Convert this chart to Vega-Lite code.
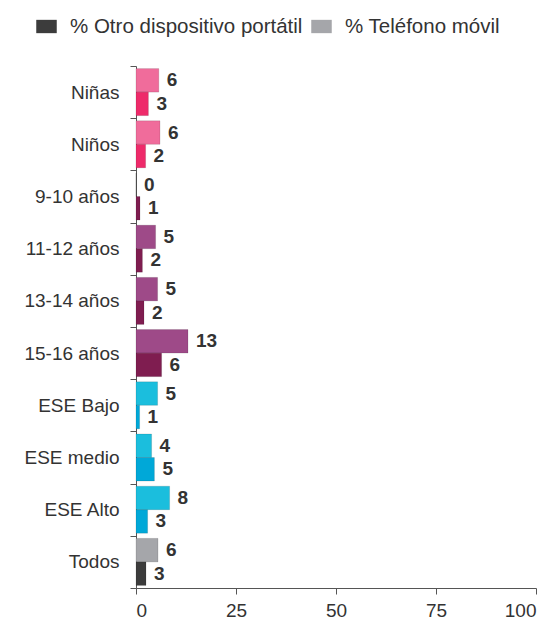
{
  "$schema": "https://vega.github.io/schema/vega-lite/v6.json",
  "width": 400,
  "height": 522,
  "autosize": {"type": "none"},
  "padding": {"left": 136, "top": 66, "right": 18, "bottom": 39},
  "background": "white",
  "config": {
    "font": "Liberation Sans",
    "view": {"stroke": null}
  },
  "data": {
    "values": [
      {"categoria": "Niñas", "grupo": "Género", "serie": "% Teléfono móvil", "valor": 5.7, "etiqueta": "6"},
      {"categoria": "Niñas", "grupo": "Género", "serie": "% Otro dispositivo portátil", "valor": 3.1, "etiqueta": "3"},
      {"categoria": "Niños", "grupo": "Género", "serie": "% Teléfono móvil", "valor": 6.0, "etiqueta": "6"},
      {"categoria": "Niños", "grupo": "Género", "serie": "% Otro dispositivo portátil", "valor": 2.4, "etiqueta": "2"},
      {"categoria": "9-10 años", "grupo": "Edad", "serie": "% Teléfono móvil", "valor": 0, "etiqueta": "0"},
      {"categoria": "9-10 años", "grupo": "Edad", "serie": "% Otro dispositivo portátil", "valor": 1.0, "etiqueta": "1"},
      {"categoria": "11-12 años", "grupo": "Edad", "serie": "% Teléfono móvil", "valor": 4.9, "etiqueta": "5"},
      {"categoria": "11-12 años", "grupo": "Edad", "serie": "% Otro dispositivo portátil", "valor": 1.6, "etiqueta": "2"},
      {"categoria": "13-14 años", "grupo": "Edad", "serie": "% Teléfono móvil", "valor": 5.4, "etiqueta": "5"},
      {"categoria": "13-14 años", "grupo": "Edad", "serie": "% Otro dispositivo portátil", "valor": 2.0, "etiqueta": "2"},
      {"categoria": "15-16 años", "grupo": "Edad", "serie": "% Teléfono móvil", "valor": 13.0, "etiqueta": "13"},
      {"categoria": "15-16 años", "grupo": "Edad", "serie": "% Otro dispositivo portátil", "valor": 6.4, "etiqueta": "6"},
      {"categoria": "ESE Bajo", "grupo": "ESE", "serie": "% Teléfono móvil", "valor": 5.4, "etiqueta": "5"},
      {"categoria": "ESE Bajo", "grupo": "ESE", "serie": "% Otro dispositivo portátil", "valor": 0.9, "etiqueta": "1"},
      {"categoria": "ESE medio", "grupo": "ESE", "serie": "% Teléfono móvil", "valor": 3.9, "etiqueta": "4"},
      {"categoria": "ESE medio", "grupo": "ESE", "serie": "% Otro dispositivo portátil", "valor": 4.6, "etiqueta": "5"},
      {"categoria": "ESE Alto", "grupo": "ESE", "serie": "% Teléfono móvil", "valor": 8.4, "etiqueta": "8"},
      {"categoria": "ESE Alto", "grupo": "ESE", "serie": "% Otro dispositivo portátil", "valor": 2.9, "etiqueta": "3"},
      {"categoria": "Todos", "grupo": "Todos", "serie": "% Teléfono móvil", "valor": 5.5, "etiqueta": "6"},
      {"categoria": "Todos", "grupo": "Todos", "serie": "% Otro dispositivo portátil", "valor": 2.5, "etiqueta": "3"}
    ]
  },
  "transform": [
    {"calculate": "datum.grupo + '|' + datum.serie", "as": "clave"}
  ],
  "encoding": {
    "y": {
      "field": "categoria",
      "type": "nominal",
      "sort": ["Niñas", "Niños", "9-10 años", "11-12 años", "13-14 años", "15-16 años", "ESE Bajo", "ESE medio", "ESE Alto", "Todos"],
      "scale": {"paddingInner": 0, "paddingOuter": 0},
      "axis": {
        "title": null,
        "tickBand": "extent",
        "domainColor": "#555555",
        "tickColor": "#555555",
        "tickSize": 6,
        "labelFontSize": 19,
        "labelColor": "#333333",
        "labelPadding": 11
      }
    },
    "yOffset": {
      "field": "serie",
      "type": "nominal",
      "sort": ["% Teléfono móvil", "% Otro dispositivo portátil"],
      "scale": {"paddingInner": 0, "paddingOuter": 0.11}
    }
  },
  "layer": [
    {
      "mark": {"type": "bar", "stroke": "black", "strokeOpacity": 0.12, "strokeWidth": 1},
      "encoding": {
        "x": {
          "field": "valor",
          "type": "quantitative",
          "scale": {"domain": [0, 100]},
          "axis": {
            "title": null,
            "values": [0, 25, 50, 75, 100],
            "grid": false,
            "domainColor": "#555555",
            "tickColor": "#555555",
            "tickSize": 6,
            "labelFontSize": 19,
            "labelColor": "#333333",
            "labelPadding": 7
          }
        },
        "color": {
          "field": "clave",
          "type": "nominal",
          "scale": {
            "domain": [
              "Todos|% Otro dispositivo portátil", "Todos|% Teléfono móvil",
              "Género|% Otro dispositivo portátil", "Género|% Teléfono móvil",
              "Edad|% Otro dispositivo portátil", "Edad|% Teléfono móvil",
              "ESE|% Otro dispositivo portátil", "ESE|% Teléfono móvil"
            ],
            "range": [
              "#3c3c3c", "#a5a6aa",
              "#ee2a6a", "#f06c9b",
              "#7f1d50", "#9e4a88",
              "#00a8d8", "#1bbedd"
            ]
          },
          "legend": {
            "title": null,
            "values": ["Todos|% Otro dispositivo portátil", "Todos|% Teléfono móvil"],
            "labelExpr": "split(datum.label, '|')[1]",
            "orient": "none",
            "direction": "horizontal",
            "legendX": -100,
            "legendY": -50,
            "symbolType": "M-1,-0.65H1V0.65H-1Z",
            "symbolSize": 420,
            "symbolStrokeWidth": 0,
            "labelFontSize": 20.5,
            "labelColor": "#333333",
            "labelLimit": 400,
            "labelOffset": 13,
            "columnPadding": 8
          }
        }
      }
    },
    {
      "mark": {"type": "text", "align": "left", "baseline": "middle", "dx": 8, "fontSize": 19, "fontWeight": "bold", "color": "#333333"},
      "encoding": {
        "x": {"field": "valor", "type": "quantitative"},
        "text": {"field": "etiqueta", "type": "nominal"}
      }
    }
  ]
}
